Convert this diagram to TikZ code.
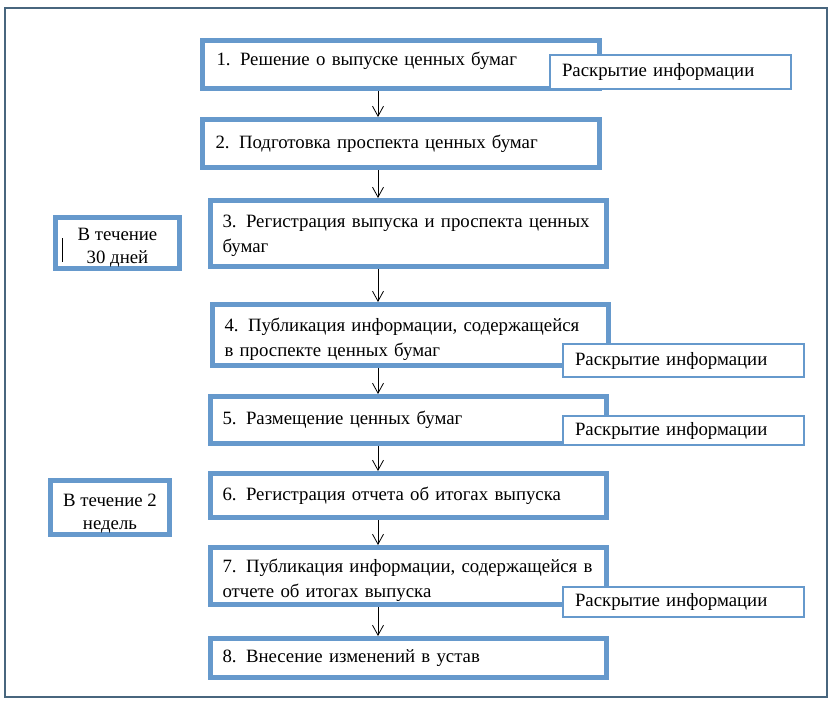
\documentclass[tikz,border=0pt]{standalone}
\usepackage{fontspec}
\setmainfont{Liberation Serif}
\usetikzlibrary{arrows.meta,positioning}
\definecolor{stepblue}{RGB}{102,153,204}
\definecolor{framegray}{RGB}{72,102,126}

\begin{document}
\begin{tikzpicture}[x=1pt,y=-1pt,
            stepbox/.style={draw=stepblue,line width=5pt,anchor=north west,
              inner xsep=12pt,inner ysep=0pt,align=left,
              font=\fontsize{18.8}{25}\selectfont},
            termbox/.style={draw=stepblue,line width=5pt,anchor=north west,
              inner sep=0pt,align=center,font=\fontsize{18.8}{23}\selectfont},
            infobox/.style={draw=stepblue,line width=2pt,fill=white,anchor=north west,
              minimum width=241pt,text width=217pt,inner xsep=12pt,inner ysep=0pt,
              align=left,font=\fontsize{18.8}{20}\selectfont},
            flow/.style={-{Straight Barb[length=10pt,width=11pt]},line width=0.8pt}]
 \useasboundingbox (0,0) rectangle (835,710);
 \draw[framegray,line width=2pt] (5,8) rectangle (827,697);

 % main steps
 \node[stepbox,minimum width=397pt,minimum height=48pt,text width=369pt,
   inner xsep=14pt,text depth=12pt] (s1) at (200,38)
   {1.\enspace Решение о выпуске ценных бумаг};
 \node[stepbox,minimum width=397pt,minimum height=48pt,text width=371pt] (s2) at (200,117)
   {2.\enspace Подготовка проспекта ценных бумаг};
 \node[stepbox,minimum width=396pt,minimum height=66pt,text width=372pt] (s3) at (208,198)
   {\rule{0pt}{18pt}3.\enspace Регистрация выпуска и проспекта ценных\\бумаг};
 \node[stepbox,minimum width=396pt,minimum height=61pt,text width=372pt] (s4) at (210,302)
   {\rule{0pt}{22pt}4.\enspace Публикация информации, содержащейся\\в проспекте ценных бумаг};
 \node[stepbox,minimum width=396pt,minimum height=47pt,text width=372pt] (s5) at (208,394)
   {5.\enspace Размещение ценных бумаг};
 \node[stepbox,minimum width=396pt,minimum height=44pt,text width=372pt] (s6) at (208,471)
   {6.\enspace Регистрация отчета об итогах выпуска};
 \node[stepbox,minimum width=396pt,minimum height=57pt,text width=372pt] (s7) at (208,545)
   {\rule{0pt}{22pt}7.\enspace Публикация информации, содержащейся в\\отчете об итогах выпуска};
 \node[stepbox,minimum width=396pt,minimum height=39pt,text width=372pt] (s8) at (208,636)
   {8.\enspace Внесение изменений в устав};

 % terms
 \node[termbox,minimum width=124pt,minimum height=51pt] (t1) at (53,215)
   {\rule{0pt}{22pt}В течение\\30 дней};
 \node[termbox,minimum width=119pt,minimum height=54pt] (t2) at (48,478)
   {\rule{0pt}{24pt}В течение 2\\недель};
 \draw[line width=0.8pt] (62,238) -- (62,262);

 % disclosure
 \node[infobox,minimum height=34pt] (r1) at (549,54) {Раскрытие информации};
 \node[infobox,minimum height=33pt] (r2) at (562,343) {Раскрытие информации};
 \node[infobox,minimum height=29pt] (r3) at (562,415) {Раскрытие информации};
 \node[infobox,minimum height=30pt] (r4) at (562,586) {Раскрытие информации};

 \coordinate (ax) at (378,0);
 \foreach \a/\b in {s1/s2,s2/s3,s3/s4,s4/s5,s5/s6,s6/s7,s7/s8}
   \draw[flow] (\a.south -| ax) -- (\b.north -| ax);
\end{tikzpicture}
\end{document}
